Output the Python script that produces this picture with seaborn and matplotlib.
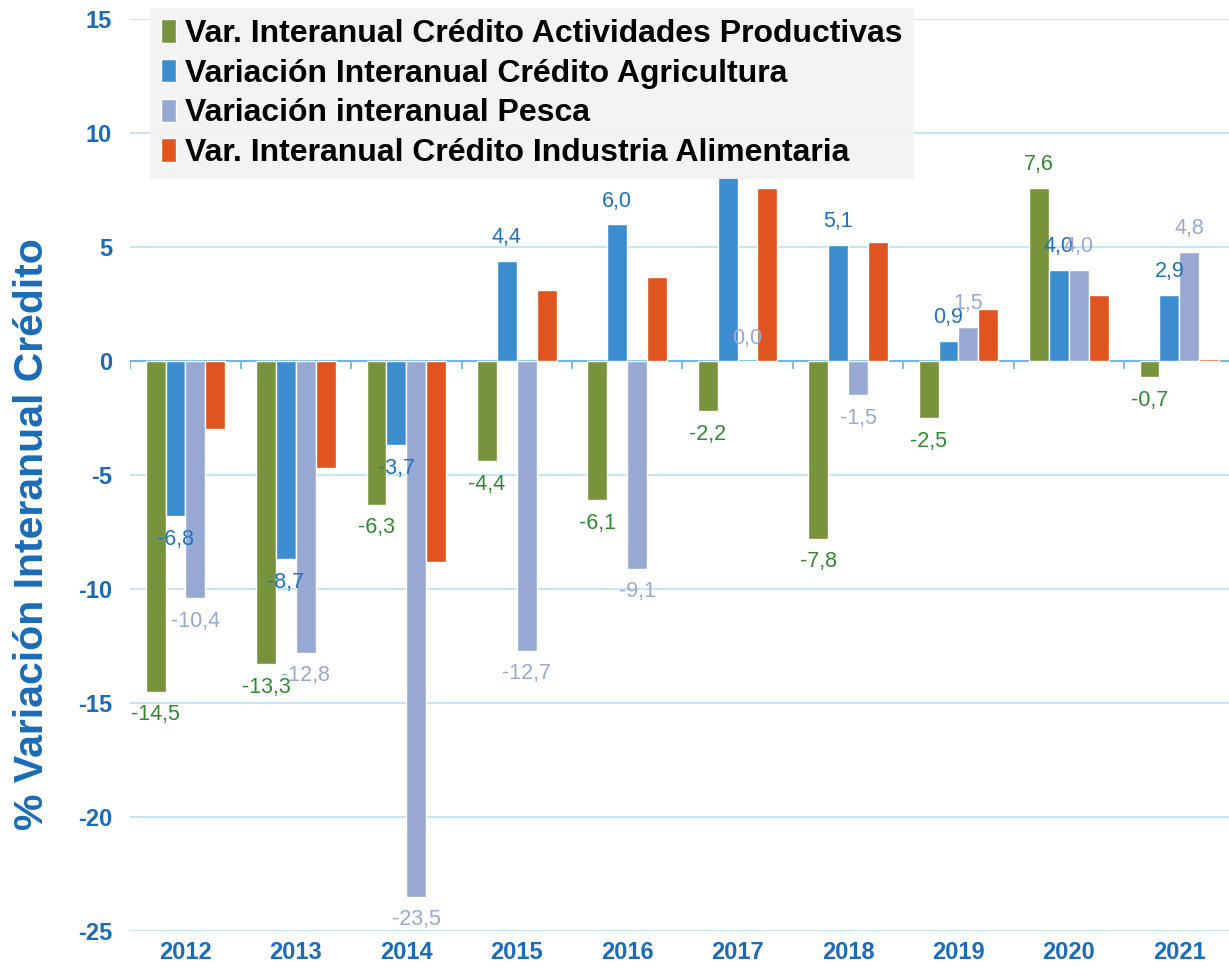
import matplotlib
matplotlib.use("Agg")
import matplotlib.pyplot as plt
from matplotlib import font_manager
import seaborn as sns
import pandas as pd
import numpy as np

years = ["2012", "2013", "2014", "2015", "2016", "2017", "2018", "2019", "2020", "2021"]
series_names = [
    "Var. Interanual Crédito Actividades Productivas",
    "Variación Interanual Crédito Agricultura",
    "Variación interanual Pesca",
    "Var. Interanual Crédito Industria Alimentaria",
]
actividades = [-14.5, -13.3, -6.3, -4.4, -6.1, -2.2, -7.8, -2.5, 7.6, -0.7]
agricultura = [-6.8, -8.7, -3.7, 4.4, 6.0, 8.1, 5.1, 0.9, 4.0, 2.9]
pesca = [-10.4, -12.8, -23.5, -12.7, -9.1, 0.0, -1.5, 1.5, 4.0, 4.8]
industria = [-3.0, -4.7, -8.8, 3.1, 3.7, 7.6, 5.2, 2.3, 2.9, 0.1]
y_ticks = [-25, -20, -15, -10, -5, 0, 5, 10, 15]

bar_colors = ["#77933c", "#3c8dd0", "#97a9d3", "#e0541f"]
label_colors = ["#2f8a2f", "#1f72bf", "#97a9d3", None]
blue_text = "#1a6cb8"

sns.set_theme(style="white")
names = {f.name for f in font_manager.fontManager.ttflist}
narrow = "Liberation Sans Narrow" if "Liberation Sans Narrow" in names else "Liberation Sans"
plt.rcParams["font.family"] = ["Liberation Sans", "DejaVu Sans"]

rows = []
for name, vals in zip(series_names, [actividades, agricultura, pesca, industria]):
    for y, v in zip(years, vals):
        rows.append({"Año": y, "Serie": name, "Valor": v})
df = pd.DataFrame(rows)

fig = plt.figure(figsize=(12.29, 9.75), dpi=100)
ax = fig.add_axes([0.106, 0.045, 0.894, 0.9355])

for t in y_ticks:
    ax.axhline(t, color="#bfe4f6", lw=1.3, zorder=0)
ax.axhline(0, color="#6fb7e6", lw=1.5, zorder=1)

sns.barplot(data=df, x="Año", y="Valor", hue="Serie", hue_order=series_names,
            palette=bar_colors, width=0.72, saturation=1, ax=ax, zorder=2,
            legend=True)

for cont, col in zip(ax.containers, label_colors):
    if col is None:
        continue
    vals = cont.datavalues
    labels = [f"{v:.1f}".replace(".", ",") for v in vals]
    ax.bar_label(cont, labels=labels, padding=9, color=col, fontsize=15.5, zorder=3)

# category boundary tick marks on zero line
bounds = np.arange(len(years) + 1) - 0.5
ax.vlines(bounds, -0.35, 0, color="#6fb7e6", lw=1.3, zorder=1)

ax.set_ylim(-25, 15)
ax.set_xlim(-0.5, 9.45)
ax.set_yticks(y_ticks)
ax.set_yticklabels([str(t) for t in y_ticks])
for s in ax.spines.values():
    s.set_visible(False)
ax.tick_params(axis="both", length=0, colors=blue_text, labelsize=17)
ax.tick_params(axis="x", pad=7)
ax.tick_params(axis="y", pad=13)
for lab in ax.get_xticklabels() + ax.get_yticklabels():
    lab.set_fontweight("bold")
    lab.set_color(blue_text)
ax.set_xlabel("")
ax.set_ylabel("% Variación Interanual Crédito", color=blue_text, fontsize=29.5,
              fontweight="bold")
ax.yaxis.set_label_coords(-0.072, 0.435)

leg = ax.legend(loc="upper left", bbox_to_anchor=(0.018, 1.012), frameon=True,
                prop={"family": narrow, "weight": "bold", "size": 23},
                labelcolor="black",
                handlelength=0.45, handleheight=0.75, handletextpad=0.3,
                labelspacing=0.3, borderpad=0.35, borderaxespad=0,
                fancybox=False)
leg.get_frame().set_facecolor("#f3f3f3")
leg.get_frame().set_edgecolor("none")
leg.get_frame().set_alpha(0.93)
leg.set_zorder(10)

fig.savefig("out.png", dpi=100, facecolor="white")
